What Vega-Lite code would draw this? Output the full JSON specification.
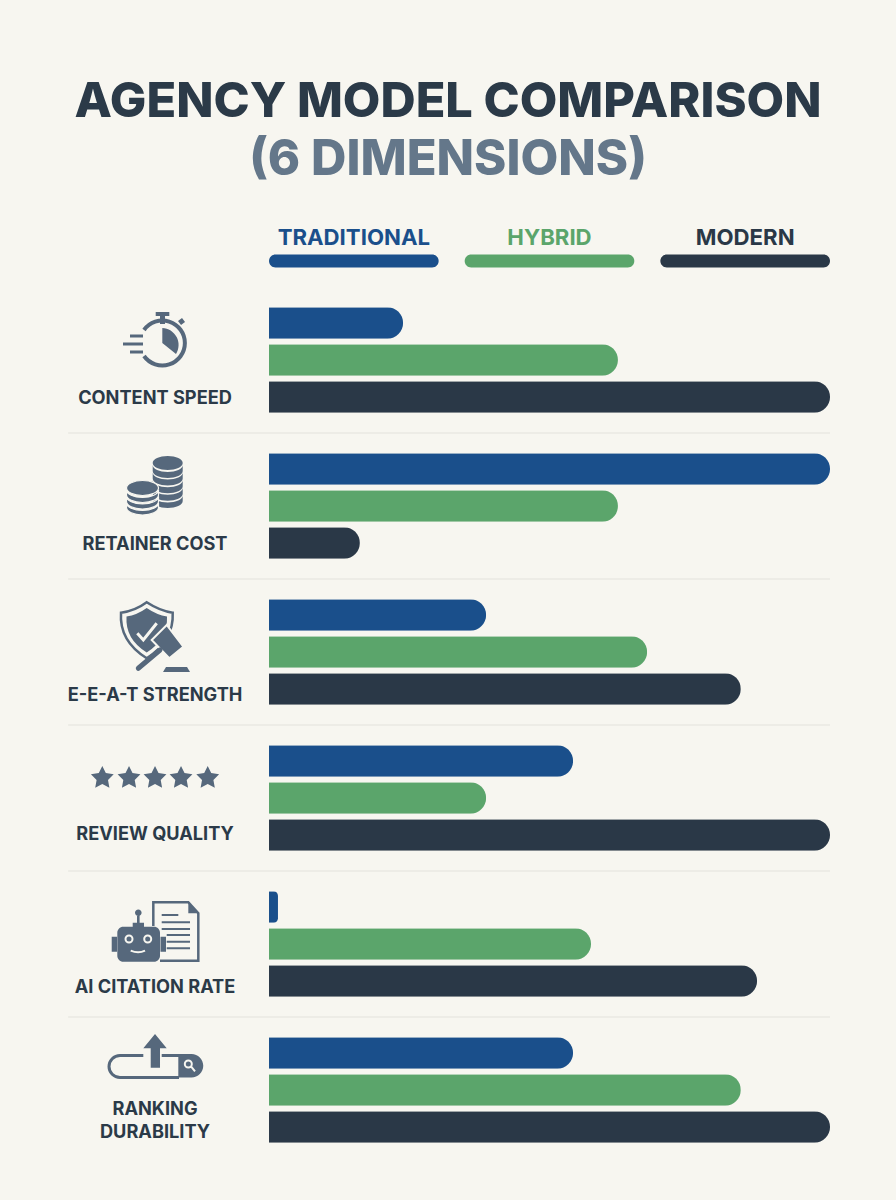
{
"$schema":"https://vega.github.io/schema/vega-lite/v6.json",
"width":896,"height":1200,"autosize":{"type":"none"},"padding":0,"background":"#f7f6f0",
"config":{"view":{"stroke":null}},
"title":{"text":"AGENCY MODEL COMPARISON","subtitle":"(6 DIMENSIONS)","anchor":"middle","frame":"group","orient":"top","offset":-186,"font":"Inter","fontSize":48.7,"fontWeight":800,"color":"#2b3a48","subtitleFont":"Inter","subtitleFontSize":49,"subtitleFontWeight":800,"subtitleColor":"#64778a","subtitlePadding":8},
"datasets":{
"rows":[
{"category":"CONTENT SPEED","series":"Traditional","value":23.9},
{"category":"CONTENT SPEED","series":"Hybrid","value":62.2},
{"category":"CONTENT SPEED","series":"Modern","value":100},
{"category":"RETAINER COST","series":"Traditional","value":100},
{"category":"RETAINER COST","series":"Hybrid","value":62.2},
{"category":"RETAINER COST","series":"Modern","value":16.2},
{"category":"E-E-A-T STRENGTH","series":"Traditional","value":38.7},
{"category":"E-E-A-T STRENGTH","series":"Hybrid","value":67.4},
{"category":"E-E-A-T STRENGTH","series":"Modern","value":84.1},
{"category":"REVIEW QUALITY","series":"Traditional","value":54.2},
{"category":"REVIEW QUALITY","series":"Hybrid","value":38.7},
{"category":"REVIEW QUALITY","series":"Modern","value":100},
{"category":"AI CITATION RATE","series":"Traditional","value":1.6},
{"category":"AI CITATION RATE","series":"Hybrid","value":57.4},
{"category":"AI CITATION RATE","series":"Modern","value":87},
{"category":"RANKING DURABILITY","series":"Traditional","value":54.2},
{"category":"RANKING DURABILITY","series":"Hybrid","value":84.1},
{"category":"RANKING DURABILITY","series":"Modern","value":100}
],
"series":[{"series":"Traditional","label":"TRADITIONAL"},{"series":"Hybrid","label":"HYBRID"},{"series":"Modern","label":"MODERN"}]
},
"resolve":{"scale":{"x":"independent","y":"independent"}},
"layer":[
{"data":{"name":"series"},
 "encoding":{
  "x":{"field":"series","type":"nominal","axis":null,"sort":null,"scale":{"type":"band","domain":["Traditional","Hybrid","Modern"],"range":[269,830],"paddingInner":0.133,"paddingOuter":0}},
  "y":{"datum":"legend","type":"nominal","axis":null,"scale":{"type":"band","domain":["legend"],"range":[254.5,267.5],"paddingInner":0,"paddingOuter":0}}
 },
 "layer":[
  {"mark":{"type":"bar","cornerRadius":6.5},"encoding":{"color":{"field":"series","type":"nominal","legend":null,"scale":{"domain":["Traditional","Hybrid","Modern"],"range":["#1a4f8b","#5ba56b","#2a3847"]}}}},
  {"mark":{"type":"text","dy":-23,"font":"Inter","fontSize":22.2,"fontWeight":700},"encoding":{"text":{"field":"label"},"color":{"field":"series","type":"nominal","legend":null}}}
 ]},
{"data":{"name":"rows"},
 "layer":[
  {"mark":{"type":"bar","height":31.5,"cornerRadiusTopRight":15.7,"cornerRadiusBottomRight":15.7},
   "encoding":{
    "x":{"field":"value","type":"quantitative","axis":null,"scale":{"domain":[-47.95,111.76],"nice":false,"zero":false}},
    "y":{"field":"category","type":"nominal","sort":null,"axis":null,"scale":{"type":"band","domain":["CONTENT SPEED","RETAINER COST","E-E-A-T STRENGTH","REVIEW QUALITY","AI CITATION RATE","RANKING DURABILITY"],"range":[287,1163],"paddingInner":0,"paddingOuter":0}},
    "yOffset":{"field":"series","type":"nominal","sort":["Traditional","Hybrid","Modern"],"scale":{"domain":["Traditional","Hybrid","Modern"],"paddingInner":0.162,"paddingOuter":0.554}},
    "color":{"field":"series","type":"nominal","legend":null}
   }},
  {"data":{"values":[{"category":"RETAINER COST"},{"category":"E-E-A-T STRENGTH"},{"category":"REVIEW QUALITY"},{"category":"AI CITATION RATE"},{"category":"RANKING DURABILITY"}]},
   "mark":{"type":"rule","stroke":"#e3e2dc","strokeWidth":1.2},
   "encoding":{"x":{"datum":-35.8,"type":"quantitative","axis":null},"x2":{"datum":100},"y":{"field":"category","type":"nominal","bandPosition":0,"axis":null}}},
  {"data":{"values":[{"category":"CONTENT SPEED"}]},"mark":{"type":"text","font":"Inter","fontSize":18.2,"fontWeight":700,"color":"#2b3a48","dy":1.5},
   "encoding":{"x":{"datum":-20.32,"type":"quantitative","axis":null},"y":{"field":"category","type":"nominal","bandPosition":0.76,"axis":null},"text":{"field":"category"}}},
  {"data":{"values":[{"category":"RETAINER COST"}]},"mark":{"type":"text","font":"Inter","fontSize":18.2,"fontWeight":700,"color":"#2b3a48","dy":1.5},
   "encoding":{"x":{"datum":-20.32,"type":"quantitative","axis":null},"y":{"field":"category","type":"nominal","bandPosition":0.76,"axis":null},"text":{"field":"category"}}},
  {"data":{"values":[{"category":"E-E-A-T STRENGTH"}]},"mark":{"type":"text","font":"Inter","fontSize":18.2,"fontWeight":700,"color":"#2b3a48","dy":1.5},
   "encoding":{"x":{"datum":-20.32,"type":"quantitative","axis":null},"y":{"field":"category","type":"nominal","bandPosition":0.788,"axis":null},"text":{"field":"category"}}},
  {"data":{"values":[{"category":"REVIEW QUALITY"}]},"mark":{"type":"text","font":"Inter","fontSize":18.2,"fontWeight":700,"color":"#2b3a48","dy":1.5},
   "encoding":{"x":{"datum":-20.32,"type":"quantitative","axis":null},"y":{"field":"category","type":"nominal","bandPosition":0.74,"axis":null},"text":{"field":"category"}}},
  {"data":{"values":[{"category":"AI CITATION RATE"}]},"mark":{"type":"text","font":"Inter","fontSize":18.2,"fontWeight":700,"color":"#2b3a48","dy":0.5},
   "encoding":{"x":{"datum":-20.32,"type":"quantitative","axis":null},"y":{"field":"category","type":"nominal","bandPosition":0.795,"axis":null},"text":{"field":"category"}}},
  {"data":{"values":[{"category":"RANKING DURABILITY","lines":["RANKING","DURABILITY"]}]},"mark":{"type":"text","font":"Inter","fontSize":18.2,"fontWeight":700,"color":"#2b3a48","lineHeight":23,"dy":-11},
   "encoding":{"x":{"datum":-20.32,"type":"quantitative","axis":null},"y":{"field":"category","type":"nominal","bandPosition":0.709,"axis":null},"text":{"field":"lines"}}},
  {"data":{"values":[{"category":"CONTENT SPEED"}]},
   "encoding":{"x":{"datum":-20.32,"type":"quantitative","axis":null},"y":{"field":"category","type":"nominal","bandPosition":0.356,"axis":null}},
   "layer":[
    {"mark":{"type":"point","size":4,"filled":true,"color":"#56687c","opacity":1,"shape":"M0.7,-27H14.3V-23H0.7ZM5,-23H10V-15H5ZM23,-18L27,-21L30,-17L26,-14ZM7.3,4V-11A17,17 0 0 1 21,15Z"}},
    {"mark":{"type":"point","size":4,"filled":false,"fill":null,"stroke":"#56687c","opacity":1,"strokeWidth":4,"shape":"M-11,-9A22.5,22.5 0 1 1 -11,17"}},
    {"mark":{"type":"point","size":4,"filled":false,"fill":null,"stroke":"#56687c","opacity":1,"strokeWidth":3,"shape":"M-25,-3H-12M-32,5H-12M-25,13H-12"}}
   ]},
  {"data":{"values":[{"category":"RETAINER COST"}]},
   "encoding":{"x":{"datum":-20.32,"type":"quantitative","axis":null},"y":{"field":"category","type":"nominal","bandPosition":0.356,"axis":null}},
   "layer":[
    {"mark":{"type":"point","size":4,"filled":true,"color":"#56687c","opacity":1,"shape":"M-2.3,-22A15,7 0 1 1 27.7,-22A15,7 0 1 1 -2.3,-22ZM-2.3,-20A15,7 0 0 0 27.7,-20V-14A15,7 0 0 1 -2.3,-14ZM-2.3,-12.4A15,7 0 0 0 27.7,-12.4V-6.4A15,7 0 0 1 -2.3,-6.4ZM-2.3,-4.8A15,7 0 0 0 27.7,-4.8V1.2A15,7 0 0 1 -2.3,1.2ZM-2.3,2.8A15,7 0 0 0 27.7,2.8V8.8A15,7 0 0 1 -2.3,8.8ZM-2.3,10.4A15,7 0 0 0 27.7,10.4V16A15,7 0 0 1 -2.3,16Z"}},
    {"mark":{"type":"point","size":4,"filled":true,"fill":"#56687c","stroke":"#f7f6f0","strokeWidth":1.2,"opacity":1,"shape":"M-28.5,3A16,7.5 0 1 1 3.5,3A16,7.5 0 1 1 -28.5,3ZM-28.5,5A16,7.5 0 0 0 3.5,5V10A16,7.5 0 0 1 -28.5,10ZM-28.5,11.5A16,7.5 0 0 0 3.5,11.5V16.5A16,7.5 0 0 1 -28.5,16.5ZM-28.5,18A16,7.5 0 0 0 3.5,18V22.5A16,7.5 0 0 1 -28.5,22.5Z"}}
   ]},
  {"data":{"values":[{"category":"E-E-A-T STRENGTH"}]},
   "encoding":{"x":{"datum":-20.32,"type":"quantitative","axis":null},"y":{"field":"category","type":"nominal","bandPosition":0.356,"axis":null}},
   "layer":[
    {"mark":{"type":"point","size":4,"filled":false,"fill":null,"stroke":"#56687c","opacity":1,"strokeWidth":2.5,"shape":"M-8.3,-28.7Q5,-20 17.7,-18.3Q19,10 -8.3,27.3Q-36,10 -34,-18.3Q-20,-20 -8.3,-28.7Z"}},
    {"mark":{"type":"point","size":4,"filled":true,"color":"#56687c","opacity":1,"shape":"M-8.3,-23Q2,-16 12,-14.5Q13,8 -8.3,21.5Q-30,8 -28.5,-14.5Q-18,-16 -8.3,-23Z"}},
    {"mark":{"type":"point","size":4,"filled":false,"fill":null,"stroke":"#f7f6f0","opacity":1,"strokeWidth":3,"shape":"M-17.7,2.3L-11.7,9L1.7,-7.7"}},
    {"mark":{"type":"point","size":4,"filled":true,"fill":"#56687c","stroke":"#f7f6f0","strokeWidth":2,"opacity":1,"shape":"M-3.3,9L11.7,-6L28.3,15.7L14.3,27.3Z"}},
    {"mark":{"type":"point","size":4,"filled":false,"fill":null,"stroke":"#56687c","opacity":1,"strokeWidth":5,"strokeCap":"round","shape":"M5,19L-16.7,37.3"}},
    {"mark":{"type":"point","size":4,"filled":true,"color":"#56687c","opacity":1,"shape":"M11,36H32L35,41H8Z"}}
   ]},
  {"data":{"values":[{"category":"REVIEW QUALITY"}]},
   "encoding":{"x":{"datum":-20.32,"type":"quantitative","axis":null},"y":{"field":"category","type":"nominal","bandPosition":0.356,"axis":null}},
   "mark":{"type":"point","size":4,"filled":true,"color":"#56687c","opacity":1,"shape":"M-52.7,-11l3.5,7.1l7.9,1.2l-5.7,5.6l1.4,7.8l-7.1,-3.7l-7.1,3.7l1.4,-7.8l-5.7,-5.6l7.9,-1.2ZM-26,-11l3.5,7.1l7.9,1.2l-5.7,5.6l1.4,7.8l-7.1,-3.7l-7.1,3.7l1.4,-7.8l-5.7,-5.6l7.9,-1.2ZM0,-11l3.5,7.1l7.9,1.2l-5.7,5.6l1.4,7.8l-7.1,-3.7l-7.1,3.7l1.4,-7.8l-5.7,-5.6l7.9,-1.2ZM26,-11l3.5,7.1l7.9,1.2l-5.7,5.6l1.4,7.8l-7.1,-3.7l-7.1,3.7l1.4,-7.8l-5.7,-5.6l7.9,-1.2ZM52.7,-11l3.5,7.1l7.9,1.2l-5.7,5.6l1.4,7.8l-7.1,-3.7l-7.1,3.7l1.4,-7.8l-5.7,-5.6l7.9,-1.2Z"}},
  {"data":{"values":[{"category":"AI CITATION RATE"}]},
   "encoding":{"x":{"datum":-20.32,"type":"quantitative","axis":null},"y":{"field":"category","type":"nominal","bandPosition":0.356,"axis":null}},
   "layer":[
    {"mark":{"type":"point","size":4,"filled":false,"fill":null,"stroke":"#56687c","opacity":1,"strokeWidth":2.5,"shape":"M-1.7,3V-20.7H33.3L43.3,-9.7V37.7H5"}},
    {"mark":{"type":"point","size":4,"filled":false,"fill":null,"stroke":"#56687c","opacity":1,"strokeWidth":2,"shape":"M6.7,-8H23.3M6.7,-0.7H35M6.7,6H35M11.7,12H35M11.7,18.7H35M11.7,25.3H35"}},
    {"mark":{"type":"point","size":4,"filled":true,"color":"#56687c","opacity":1,"shape":"M33.3,-20.7L43.3,-9.7H33.3ZM-31.7,3.7H-1A6,6 0 0 1 5,9.7V32.7A6,6 0 0 1 -1,38.7H-31.7A6,6 0 0 1 -37.7,32.7V9.7A6,6 0 0 1 -31.7,3.7ZM-43.3,13.7H-38V28.7H-43.3ZM5.5,13.7H11V28.7H5.5ZM-18,-9.7H-15.4V0H-18ZM-22.3,-0.3H-11V3.7H-22.3ZM-20,-10.3A3.3,3.3 0 1 1 -13.4,-10.3A3.3,3.3 0 1 1 -20,-10.3Z"}},
    {"mark":{"type":"point","size":4,"filled":false,"fill":null,"stroke":"#f7f6f0","opacity":1,"strokeWidth":2,"shape":"M-29.5,16A3.5,3.5 0 1 1 -22.5,16A3.5,3.5 0 1 1 -29.5,16ZM-10.8,16A3.5,3.5 0 1 1 -3.8,16A3.5,3.5 0 1 1 -10.8,16ZM-24.3,27.7Q-16.7,31 -10,27.7"}}
   ]},
  {"data":{"values":[{"category":"RANKING DURABILITY"}]},
   "encoding":{"x":{"datum":-20.32,"type":"quantitative","axis":null},"y":{"field":"category","type":"nominal","bandPosition":0.356,"axis":null}},
   "layer":[
    {"mark":{"type":"point","size":4,"filled":false,"fill":null,"stroke":"#56687c","opacity":1,"strokeWidth":3,"shape":"M-11.7,-13.5H-35A11,11 0 0 0 -35,8.5H24M6.7,-13.5H24"}},
    {"mark":{"type":"point","size":4,"filled":true,"color":"#56687c","opacity":1,"shape":"M23.3,-15H36.5A11.75,11.75 0 0 1 36.5,8.5H23.3ZM0,-35L11.7,-20.7H5V-1.3H-4.3V-20.7H-11.7Z"}},
    {"mark":{"type":"point","size":4,"filled":false,"fill":null,"stroke":"#f7f6f0","opacity":1,"strokeWidth":2,"shape":"M29.8,-5A3.5,3.5 0 1 1 36.8,-5A3.5,3.5 0 1 1 29.8,-5ZM36,-2.5L40,2.5"}}
   ]}
 ]}
]
}
